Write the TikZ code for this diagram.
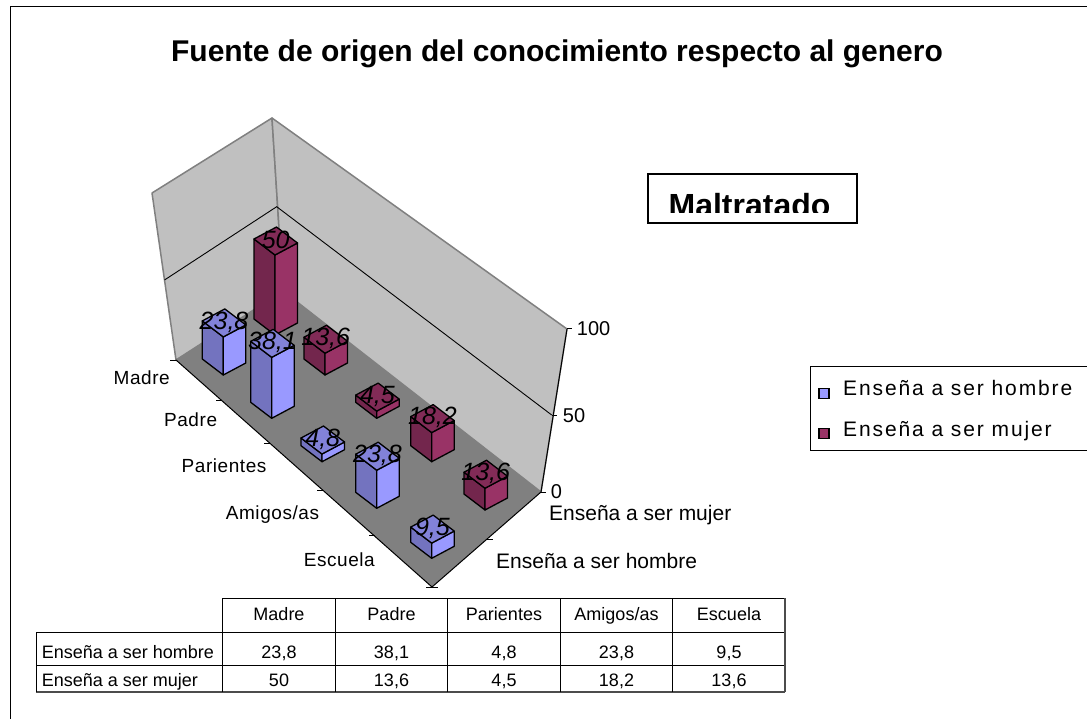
\documentclass[tikz,border=0pt]{standalone}
\usepackage{fontspec}
\setmainfont{Liberation Sans}
\usetikzlibrary{calc}
\definecolor{homright}{HTML}{9999FF}
\definecolor{homleft}{HTML}{7373BF}
\definecolor{homtop}{HTML}{8282D9}
\definecolor{mujright}{HTML}{993366}
\definecolor{mujleft}{HTML}{73264D}
\definecolor{mujtop}{HTML}{822B57}
\definecolor{wallgray}{HTML}{C0C0C0}
\definecolor{floorgray}{HTML}{808080}

% one 3D column: name, front-bottom corner (x,y), value, series
\newcommand{\drawbar}[5]{%
  \pgfmathsetmacro{\bh}{#4*1.6}
  \coordinate (#1) at (#2,#3);
  \filldraw[bar, fill=#5left]  (#1) -- ++(-21,-16) -- ++(0,-\bh) -- ++(21,16) -- cycle;
  \filldraw[bar, fill=#5right] (#1) -- ++(22.5,-12) -- ++(0,-\bh) -- ++(-22.5,12) -- cycle;
  \filldraw[bar, fill=#5top]   ($(#1)+(0,-\bh)$) -- ++(-21,-16) -- ++(22.5,-12) -- ++(21,16) -- cycle;
  \coordinate (#1top) at ($(#1)+(0.75,-15-\bh)$);
}

\begin{document}
\begin{tikzpicture}[
  x=1pt, y=-1pt,
  bar/.style={draw=black, line width=1.3pt, line join=round},
  wall/.style={fill=wallgray, draw=floorgray, line width=1.5pt, line join=round},
  grid50/.style={draw=black, line width=0.9pt},
  axline/.style={draw=black, line width=1pt},
  titletext/.style={font=\fontsize{30}{34}\selectfont\bfseries, anchor=base, inner sep=0pt},
  cat/.style={font=\fontsize{19}{22}\selectfont\addfontfeature{LetterSpace=3}, anchor=base east, inner sep=0pt},
  num/.style={font=\fontsize{20}{22}\selectfont, anchor=base west, inner sep=0pt},
  ser/.style={font=\fontsize{21}{24}\selectfont, anchor=base west, inner sep=0pt},
  val/.style={font=\fontsize{25}{27}\selectfont\itshape, inner sep=0pt},
  cell/.style={font=\fontsize{18}{20}\selectfont, anchor=base, inner sep=0pt},
  rowhead/.style={font=\fontsize{18}{20}\selectfont, anchor=base west, inner sep=0pt},
  leg/.style={font=\fontsize{21}{24}\selectfont\addfontfeature{LetterSpace=9}, anchor=base west, inner sep=0pt},
]

\useasboundingbox (0,0) rectangle (1087,719);
\clip (0,0) rectangle (1087,719);

% chart frame
\draw[line width=1pt] (10,7) rectangle (1100,730);

\node[titletext] (title) at (557,61.7) {Fuente de origen del conocimiento respecto al genero};

% walls and floor corners
\coordinate (TL) at (152,193);
\coordinate (TB) at (272,118);
\coordinate (TR) at (567,329);
\coordinate (L)  at (176,360);
\coordinate (B)  at (283,291);
\coordinate (R)  at (541,492);
\coordinate (F)  at (432,587);
\coordinate (GL) at (164.5,280);
\coordinate (GB) at (276.7,206.7);
\coordinate (GR) at (551.7,415);

\filldraw[wall] (TL) -- (TB) -- (B) -- (L) -- cycle;
\filldraw[wall] (TB) -- (TR) -- (R) -- (B) -- cycle;
\fill[floorgray] (L) -- (B) -- (R) -- (F) -- cycle;
\draw[grid50] (GL) -- (GB) -- (GR);
\draw[axline] (L) -- (F) -- (R) -- (TR);

% value axis
\draw[axline] (TR) -- ++(5,0);
\draw[axline] (GR) -- ++(5,0);
\draw[axline] (R) -- ++(5,0);
\node[num] (v100) at (576.7,336) {100};
\node[num] (v50)  at (562.7,422) {50};
\node[num] (v0)   at (550.7,498) {0};

% category axis
\coordinate (c1) at (221.7,400);
\coordinate (c2) at (270,443);
\coordinate (c3) at (323.3,490);
\coordinate (c4) at (375,535.7);
\foreach \c in {L,c1,c2,c3,c4,F} \draw[axline] (\c) -- ++(-6,0);
\node[cat] (cMadre)  at (170,384)     {Madre};
\node[cat] (cPadre)  at (217.3,426.8) {Padre};
\node[cat] (cPar)    at (266.7,472.5) {Parientes};
\node[cat] (cAmi)    at (319.3,519)   {Amigos/as};
\node[cat] (cEsc)    at (375,566.8)   {Escuela};

% series axis
\coordinate (sM) at ($(F)!0.5!(R)$);
\draw[axline] (F) -- ++(6,0);
\draw[axline] (sM) -- ++(6,0);
\node[ser] (sMuj) at (549,520.8) {Enseña a ser mujer};
\node[ser] (sHom) at (496,568.3) {Enseña a ser hombre};

% columns, back to front
\drawbar{mMad}{275}{335}{50}{muj}
\drawbar{mPad}{325}{375}{13.6}{muj}
\drawbar{hMad}{223.3}{375}{23.8}{hom}
\drawbar{mPar}{376.7}{418.3}{4.5}{muj}
\drawbar{hPad}{271.7}{418.3}{38.1}{hom}
\drawbar{mAmi}{431.7}{461.7}{18.2}{muj}
\drawbar{hPar}{322}{461.7}{4.8}{hom}
\drawbar{mEsc}{485}{510}{13.6}{muj}
\drawbar{hAmi}{376.7}{508.3}{23.8}{hom}
\drawbar{hEsc}{431.7}{558.3}{9.5}{hom}

% data labels
\node[val] at (mMadtop) {50};
\node[val] at (hMadtop) {23,8};
\node[val] at (hPadtop) {38,1};
\node[val] at (mPadtop) {13,6};
\node[val] at (mPartop) {4,5};
\node[val] at (hPartop) {4,8};
\node[val] at (mAmitop) {18,2};
\node[val] at (hAmitop) {23,8};
\node[val] at (mEsctop) {13,6};
\node[val] at (hEsctop) {9,5};

% Maltratado box (text cut at the bottom)
\begin{scope}
  \clip (648,174) rectangle (857,212.7);
  \node[font=\fontsize{32}{34}\selectfont\bfseries, anchor=base, inner sep=0pt] (malt) at (749.5,217) {Maltratado};
\end{scope}
\draw[line width=1.2pt] (648,174) rectangle (857,223);

% legend
\draw[line width=1pt] (810,366) rectangle (1100,450);
\filldraw[fill=homright, draw=black, line width=1.2pt] (819,388.5) rectangle (829,398.5);
\filldraw[fill=mujright, draw=black, line width=1.2pt] (819,428.5) rectangle (829,438.5);
\node[leg] (legHom) at (843,395)   {Enseña a ser hombre};
\node[leg] (legMuj) at (843,436.7) {Enseña a ser mujer};

% data table
\draw[line width=0.9pt] (222.7,598) -- (785.2,598);
\draw[line width=0.9pt] (36,632) -- (785.2,632);
\draw[line width=0.9pt] (36,665.5) -- (785.2,665.5);
\draw[line width=1.6pt, draw=black!70] (36,692) -- (785.2,692);
\draw[line width=0.9pt] (36,632) -- (36,692);
\foreach \tx in {222.7,335.2,447.7,560.2,672.7} \draw[line width=0.9pt] (\tx,598) -- (\tx,692);
\draw[line width=1.6pt, draw=black!70] (785.2,598) -- (785.2,692);

\node[cell] (hMadre) at (279,620.5)   {Madre};
\node[cell] (hPadre) at (391.5,620.5) {Padre};
\node[cell] (hPar)   at (504,620.5)   {Parientes};
\node[cell] (hAmi)   at (616.5,620.5) {Amigos/as};
\node[cell] (hEsc)   at (729,620.5)   {Escuela};

\node[rowhead] (rHom) at (41.7,658) {Enseña a ser hombre};
\node[rowhead] (rMuj) at (41.7,686) {Enseña a ser mujer};

\node[cell] at (279,658)   {23,8};
\node[cell] at (391.5,658) {38,1};
\node[cell] at (504,658)   {4,8};
\node[cell] at (616.5,658) {23,8};
\node[cell] at (729,658)   {9,5};
\node[cell] at (279,686)   {50};
\node[cell] at (391.5,686) {13,6};
\node[cell] at (504,686)   {4,5};
\node[cell] at (616.5,686) {18,2};
\node[cell] at (729,686)   {13,6};

\end{tikzpicture}
\end{document}
